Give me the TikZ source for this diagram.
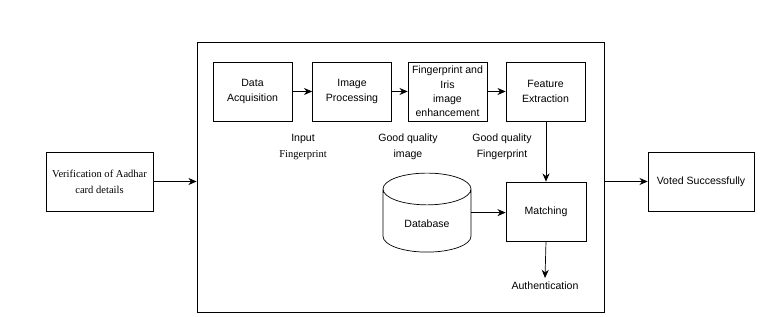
\documentclass[tikz,border=0pt]{standalone}
\usepackage{fontspec}
\setmainfont{Liberation Sans}
\newfontfamily\timesfont{Liberation Serif}
\usetikzlibrary{arrows.meta,shapes.geometric}

\tikzstyle{every node}=[font=\fontsize{9}{13.5}\selectfont,align=center]
\tikzstyle{block}=[draw=black,line width=0.6pt,minimum height=1.77cm,minimum width=2.37cm]
\tikzstyle{flow}=[line width=0.6pt,-{Stealth[length=7pt,width=6pt]}]

\begin{document}
\begin{tikzpicture}[scale=1]
\useasboundingbox (0,0) rectangle (23.37,9.51);
\node[draw=black,line width=0.7pt,minimum height=8.1cm,minimum width=12.21cm] (CORE) at (12.015,4.2) {};

\node[block] (ACQ) at (7.575,6.765) {Data\\Acquisition};
\node[block] (PROC) at (10.56,6.765) {Image\\Processing};
\node[block,font=\fontsize{9}{12.2}\selectfont] (ENH) at (13.425,6.765) {Fingerprint and\\Iris\\image\\enhancement};
\node[block] (FEAT) at (16.365,6.765) {Feature\\Extraction};
\node[block,minimum width=2.4cm] (MATCH) at (16.38,3.165) {Matching};
% text sits low in the cylinder body
\node[draw=black,line width=0.6pt,cylinder,shape border rotate=90,aspect=0.6,minimum width=2.64cm,minimum height=2.37cm] (DB) at (12.81,2.79) {Database};

\node[block,minimum width=3.21cm,font=\timesfont\fontsize{9}{13.5}\selectfont] (AADHAR) at (2.985,4.065) {Verification of Aadhar\\card details};
\node[block,minimum width=3.18cm] (VOTED) at (21.03,4.065) {Voted Successfully};

\node (INP) at (9.09,5.1) {Input\\{\timesfont Fingerprint}};
\node (GQI) at (12.24,5.1) {Good quality\\image};
\node (GQF) at (15.06,5.1) {Good quality\\Fingerprint};
\node (AUTH) at (16.35,0.93) {Authentication};

\draw[flow] (ACQ) -- (PROC);
\draw[flow] (PROC) -- (ENH);
\draw[flow] (ENH) -- (FEAT);
\draw[flow] (FEAT.south -| MATCH) -- (MATCH.north);
\draw[flow] (DB.shape center -| DB.east) -- (MATCH.west |- DB.shape center);
\draw[flow] (MATCH.south) -- (AUTH.north);
\draw[flow] (AADHAR.east) -- (CORE.west |- AADHAR.east);
\draw[flow] (CORE.east |- VOTED.west) -- (VOTED.west);
\end{tikzpicture}
\end{document}
